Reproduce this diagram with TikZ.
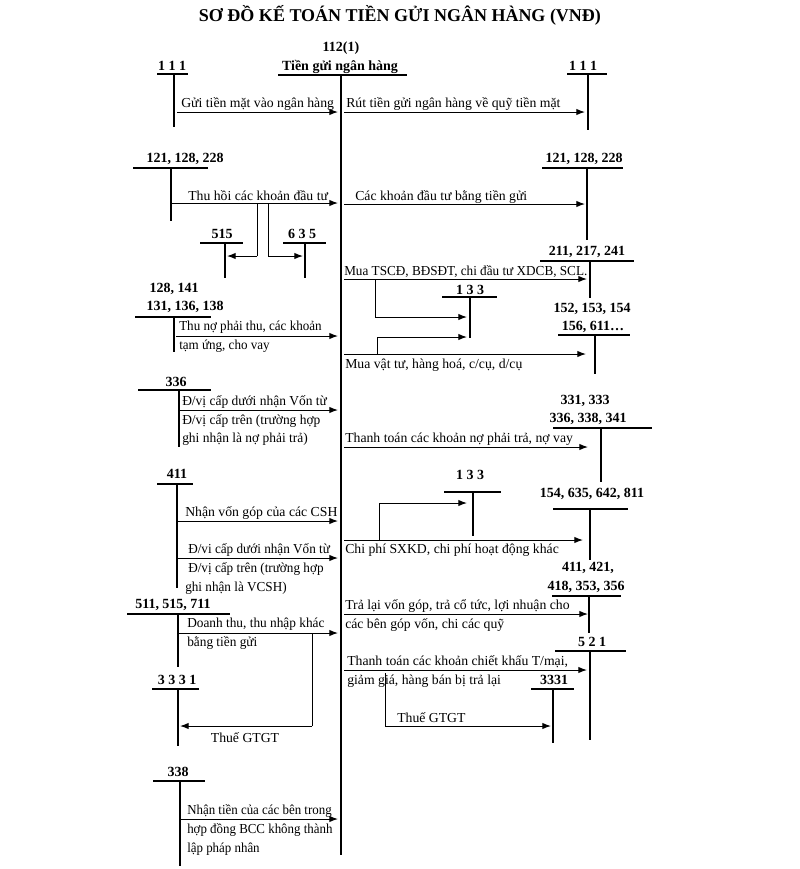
\documentclass[tikz,border=0pt]{standalone}
\usepackage{fontspec}
\setmainfont{Liberation Serif}
\usetikzlibrary{arrows.meta}
\tikzset{
  acc/.style={font=\bfseries\fontsize{10.5}{12}\selectfont, inner sep=0pt},
  txt/.style={font=\fontsize{10.3}{12}\selectfont, inner sep=0pt, anchor=west},
  ttl/.style={font=\bfseries\fontsize{13.5}{15}\selectfont, inner sep=0pt},
  tline/.style={line width=1.1pt},
  vline/.style={line width=0.9pt},
  mainh/.style={line width=1.8pt},
  mainv/.style={line width=2.2pt},
  seg/.style={line width=0.75pt},
  arr/.style={line width=0.75pt, -{Latex[length=6.5pt,width=4.8pt]}},
}
\newcommand\TAcct[9]{%
  \node[acc] (#1) at (#3,#4) {#2};
  \coordinate (#1-l) at (#5,#7);
  \coordinate (#1-r) at (#6,#7);
  \coordinate (#1-t) at (#8,#7);
  \coordinate (#1-b) at (#8,#9);
  \draw[tline] (#1-l) -- (#1-r);
  \draw[vline] (#1-t) -- (#1-b);
}
\newcommand\Sq[2]{\scalebox{#1}[1]{#2}}
\begin{document}
\begin{tikzpicture}[x=0.75pt,y=-0.75pt]
\useasboundingbox (0,0) rectangle (800,869);
\fill[white] (0,0) rectangle (800,869);

% title
\node[ttl] (title) at (400,15) {SƠ ĐỒ KẾ TOÁN TIỀN GỬI NGÂN HÀNG (VNĐ)};

% main account
\node[acc] (mA) at (341,48) {112(1)};
\node[acc] (mB) at (340,67) {Tiền gửi ngân hàng};
\coordinate (mHl) at (278,75);
\coordinate (mHr) at (407,75);
\coordinate (mTop) at (341,75);
\coordinate (mBot) at (341,855);
\draw[mainh] (mHl) -- (mHr);
\draw[mainv] (mTop) -- (mBot);
\coordinate (mIn) at (338,0);   % tip x for arrows entering main
\coordinate (mOut) at (344,0);  % start x for arrows leaving main

% ---------- section 1 : 111
\TAcct{Lcash}{1 1 1}{172}{66}{157}{188}{74}{174}{127}
\TAcct{Rcash}{1 1 1}{583}{66}{567}{607}{74}{588}{130}
\coordinate (a1s) at (177,112);
\draw[arr] (a1s) -- (a1s -| mIn);
\node[txt] (t1) at (181,104) {Gửi tiền mặt vào ngân hàng};
\coordinate (a2e) at (585,112);
\draw[arr] (a2e -| mOut) -- (a2e);
\node[txt] (t2) at (346,104) {Rút tiền gửi ngân hàng về quỹ tiền mặt};

% ---------- section 2 : 121,128,228
\TAcct{Linv}{121, 128, 228}{185}{159}{133}{208}{168}{171}{221}
\TAcct{Rinv}{121, 128, 228}{584}{159}{542}{623}{168}{587}{240}
\coordinate (a3s) at (172,203);
\draw[arr] (a3s) -- (a3s -| mIn);
\node[txt] (t3) at (188,196) {Thu hồi các khoản đầu tư};
\TAcct{Lrev}{515}{222}{234}{200}{243}{243}{225}{278}
\TAcct{Lcost}{6 3 5}{302}{234}{283}{326}{243}{305}{278}
\coordinate (b1a) at (257,203);
\coordinate (b1b) at (257,256);
\coordinate (b1c) at (227,256);
\draw[seg] (b1a) -- (b1b);
\draw[arr] (b1b) -- (b1c);
\coordinate (b2a) at (268,203);
\coordinate (b2b) at (268,256);
\coordinate (b2c) at (303,256);
\draw[seg] (b2a) -- (b2b);
\draw[arr] (b2b) -- (b2c);
\coordinate (a4e) at (585,204);
\draw[arr] (a4e -| mOut) -- (a4e);
\node[txt] (t4) at (355,197) {Các khoản đầu tư bằng tiền gửi};

% ---------- section 3 : fixed assets, materials
\TAcct{Rfa}{211, 217, 241}{587}{252}{540}{634}{261}{590}{298}
\coordinate (a5e) at (587,279);
\draw[arr] (a5e -| mOut) -- (a5e);
\node[txt] (t5) at (344,272) {\Sq{0.96}{Mua TSCĐ, BĐSĐT, chi đầu tư XDCB, SCL.}};
\TAcct{Rvat}{1 3 3}{470}{290}{442}{497}{297}{470}{338}
\coordinate (b3a) at (375,279);
\coordinate (b3b) at (375,317);
\coordinate (b3c) at (467,317);
\draw[seg] (b3a) -- (b3b);
\draw[arr] (b3b) -- (b3c);
\coordinate (b4a) at (377,354);
\coordinate (b4b) at (377,337);
\coordinate (b4c) at (467,337);
\draw[seg] (b4a) -- (b4b);
\draw[arr] (b4b) -- (b4c);
\coordinate (a6e) at (586,354);
\draw[arr] (a6e -| mOut) -- (a6e);
\node[txt] (t6) at (345,365) {Mua vật tư, hàng hoá, c/cụ, d/cụ};
\node[acc] (Rmat1) at (592,309) {152, 153, 154};
\TAcct{Rmat}{156, 611…}{593}{327}{558}{630}{335}{595}{374}

\TAcct{Lrec}{131, 136, 138}{185}{307}{135}{211}{317}{174}{352}
\node[acc] (Lrec0) at (174,289) {128, 141};
\coordinate (a7s) at (176,336);
\draw[arr] (a7s) -- (a7s -| mIn);
\node[txt] (t7a) at (179,327) {\Sq{0.95}{Thu nợ phải thu, các khoản}};
\node[txt] (t7b) at (179,346) {\Sq{0.95}{tạm ứng, cho vay}};

% ---------- section 4 : 336 / payables
\TAcct{Lint}{336}{176}{382}{138}{211}{390}{179}{447}
\coordinate (a8s) at (180,410);
\draw[arr] (a8s) -- (a8s -| mIn);
\node[txt] (t8a) at (182,402) {\Sq{0.98}{Đ/vị cấp dưới nhận Vốn từ}};
\node[txt] (t8b) at (182,421) {\Sq{0.98}{Đ/vị cấp trên (trường hợp}};
\node[txt] (t8c) at (182,439) {\Sq{0.98}{ghi nhận là nợ phải trả)}};
\node[acc] (Rpay1) at (585,401) {331, 333};
\TAcct{Rpay}{336, 338, 341}{588}{419}{553}{652}{428}{601}{482}
\coordinate (a9e) at (588,447);
\draw[arr] (a9e -| mOut) -- (a9e);
\node[txt] (t9) at (345,439) {Thanh toán các khoản nợ phải trả, nợ vay};

% ---------- section 5 : 411 / expenses
\TAcct{Lcap}{411}{177}{474}{157}{193}{484}{177}{588}
\coordinate (a10s) at (178,521);
\draw[arr] (a10s) -- (a10s -| mIn);
\node[txt] (t10) at (185,513) {Nhận vốn góp của các CSH};
\coordinate (a11s) at (178,558);
\draw[arr] (a11s) -- (a11s -| mIn);
\node[txt] (t11a) at (188,550) {\Sq{0.96}{Đ/vi cấp dưới nhận Vốn từ}};
\node[txt] (t11b) at (188,569) {\Sq{0.96}{Đ/vị cấp trên (trường hợp}};
\node[txt] (t11c) at (185,588) {\Sq{0.96}{ghi nhận là VCSH)}};
\TAcct{Rvat2}{1 3 3}{470}{475}{444}{501}{492}{473}{536}
\coordinate (b5a) at (379,540);
\coordinate (b5b) at (379,503);
\coordinate (b5c) at (467,503);
\draw[seg] (b5a) -- (b5b);
\draw[arr] (b5b) -- (b5c);
\coordinate (a12e) at (583,540);
\draw[arr] (a12e -| mOut) -- (a12e);
\node[txt] (t12) at (345,550) {Chi phí SXKD, chi phí hoạt động khác};
\TAcct{Rexp}{154, 635, 642, 811}{592}{494}{553}{628}{509}{590}{560}

% ---------- section 6 : equity / revenue
\node[acc] (Req1) at (588,568) {411, 421,};
\TAcct{Req}{418, 353, 356}{586}{587}{552}{621}{596}{589}{633}
\coordinate (a13e) at (588,614);
\draw[arr] (a13e -| mOut) -- (a13e);
\node[txt] (t13a) at (345,606) {Trả lại vốn góp, trả cổ tức, lợi nhuận cho};
\node[txt] (t13b) at (345,625) {các bên góp vốn, chi các quỹ};
\TAcct{Lsal}{511, 515, 711}{173}{605}{127}{230}{614}{178}{667}
\coordinate (a14s) at (179,633);
\draw[arr] (a14s) -- (a14s -| mIn);
\node[txt] (t14a) at (187,624) {\Sq{0.97}{Doanh thu, thu nhập khác}};
\node[txt] (t14b) at (187,643) {\Sq{0.97}{bằng tiền gửi}};
\TAcct{Ltax}{3 3 3 1}{177}{680}{152}{199}{689}{178}{746}
\coordinate (b6a) at (312,633);
\coordinate (b6b) at (312,726);
\coordinate (b6c) at (180,726);
\draw[seg] (b6a) -- (b6b);
\draw[arr] (b6b) -- (b6c);
\node[txt,anchor=center] (t15) at (245,738) {Thuế GTGT};

% ---------- section 7 : 521
\TAcct{Rded}{5 2 1}{592}{642}{555}{626}{651}{590}{740}
\coordinate (a16e) at (587,670);
\draw[arr] (a16e -| mOut) -- (a16e);
\node[txt] (t16a) at (347,662) {Thanh toán các khoản chiết khấu T/mại,};
\node[txt] (t16b) at (347,681) {giảm giá, hàng bán bị trả lại};
\TAcct{Rtax}{3331}{554}{680}{531}{574}{689}{553}{743}
\coordinate (b7a) at (385,673);
\coordinate (b7b) at (385,726);
\coordinate (b7c) at (551,726);
\draw[seg] (b7a) -- (b7b);
\draw[arr] (b7b) -- (b7c);
\node[txt] (t17) at (397,718) {Thuế GTGT};

% ---------- section 8 : 338
\TAcct{Lbcc}{338}{178}{772}{153}{205}{781}{180}{866}
\coordinate (a18s) at (181,819);
\draw[arr] (a18s) -- (a18s -| mIn);
\node[txt] (t18a) at (187,811) {\Sq{0.94}{Nhận tiền của các bên trong}};
\node[txt] (t18b) at (187,830) {\Sq{0.94}{hợp đồng BCC không thành}};
\node[txt] (t18c) at (187,849) {\Sq{0.94}{lập pháp nhân}};
\end{tikzpicture}
\end{document}
